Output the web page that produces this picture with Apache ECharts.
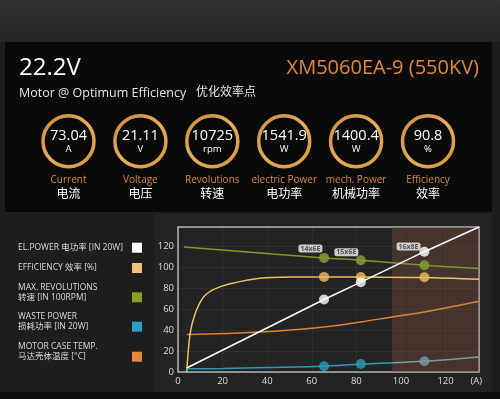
<!DOCTYPE html>
<html><head><meta charset="utf-8">
<script src="https://cdn.jsdelivr.net/npm/echarts@6/dist/echarts.min.js"></script>
<style>html,body{margin:0;padding:0;background:#1e1e1e}#c{width:500px;height:399px}</style>
</head><body><div id="c"></div>
<script>
const voltage = '22.2V';
const motorName = 'XM5060EA-9 (550KV)';
const subtitleEn = 'Motor @ Optimum Efficiency';
const subtitleZh = '优化效率点';
const statValues = ['73.04', '21.11', '10725', '1541.9', '1400.4', '90.8'];
const statUnits = ['A', 'V', 'rpm', 'W', 'W', '%'];
const statNamesEn = ['Current', 'Voltage', 'Revolutions', 'electric Power', 'mech. Power', 'Efficiency'];
const statNamesZh = ['电流', '电压', '转速', '电功率', '机械功率', '效率'];

const legendLines = [
  ['EL.POWER 电功率 [IN 20W]'],
  ['EFFICIENCY 效率 [%]'],
  ['MAX. REVOLUTIONS', '转速 [IN 100RPM]'],
  ['WASTE POWER', '损耗功率 [IN 20W]'],
  ['MOTOR CASE TEMP.', '马达壳体温度 [°C]']
];
const legendColors = ['#ffffff', '#f2c27a', '#8a9e2a', '#2aa0c0', '#e08a3a'];

const xMax = 135, yMax = 138;
const elPower = [[3.9, 3.8], [65.5, 69], [82, 85.5], [110.5, 114.5], [135, 138]];
const efficiency = [[3.9, 0], [5.4, 36], [7.6, 55], [11.3, 71], [15, 77.5], [18.8, 81], [23.3, 84], [36.6, 89.2], [51.5, 90.4], [65.5, 90.5], [82, 90.3], [110.5, 90], [135, 88.2]];
const maxRevs = [[2.7, 119], [65.5, 108.6], [82, 106.4], [110.5, 101.6], [135, 98.4]];
const wastePower = [[3.9, 3], [20, 3.4], [40, 4.2], [65.5, 5.4], [82, 7.6], [110.5, 10.2], [135, 14.3]];
const caseTemp = [[3.9, 35.6], [36.6, 38], [65.5, 42.9], [82, 47.6], [96, 52.4], [110.5, 57.1], [135, 67.3]];

const opCurrent = [65.5, 82, 110.5];
const elPowerAtOp = [69, 85.5, 114.5];
const efficiencyAtOp = [90.5, 90.3, 90.1];
const revsAtOp = [108.6, 106.4, 101.6];
const wasteAtOp = [5.4, 7.6, 10.2];

const propLabels = ['14x6E', '15x6E', '16x8E'];
const propLabelX = [59.4, 75.5, 103.4];
const propLabelY = [117.5, 114, 119.4];
const overloadFrom = 96;

const FONT = "'Open Sans', 'Noto Sans CJK SC', sans-serif";
const chart = echarts.init(document.getElementById('c'), null, {renderer: 'canvas'});

const graphics = [];
graphics.push({type: 'rect', z: -100, shape: {x: 0, y: 0, width: 500, height: 42},
  style: {fill: new echarts.graphic.LinearGradient(0, 0, 0, 1, [{offset: 0, color: '#303131'}, {offset: 1, color: '#242525'}])}});
graphics.push({type: 'rect', z: -100, shape: {x: 5, y: 42, width: 487, height: 170}, style: {fill: '#0a0a0a'}});
graphics.push({type: 'rect', z: -100, shape: {x: 155, y: 214, width: 337, height: 178}, style: {fill: '#232323'}});
graphics.push({type: 'rect', z: -100, shape: {x: 0, y: 392, width: 500, height: 7}, style: {fill: '#0c0c0c'}});

graphics.push({type: 'text', z: 10, x: 19, y: 68, style: {text: voltage, font: '24px ' + FONT, fill: '#ffffff', verticalAlign: 'middle'}});
graphics.push({type: 'text', z: 10, x: 479, y: 68, style: {text: motorName, font: '20px ' + FONT, fill: '#e0893c', align: 'right', verticalAlign: 'middle'}});
graphics.push({type: 'text', z: 10, x: 19, y: 93, style: {text: subtitleEn, font: '12.5px ' + FONT, fill: '#e6e6e6', verticalAlign: 'middle'}});
graphics.push({type: 'text', z: 10, x: 196, y: 93, style: {text: subtitleZh, font: '12px ' + FONT, fill: '#e6e6e6', verticalAlign: 'middle'}});

const ringGrad = new echarts.graphic.LinearGradient(0, 0, 1, 1, [
  {offset: 0, color: '#c98a3e'}, {offset: 0.5, color: '#e6ad5c'}, {offset: 1, color: '#d9963f'}]);
statValues.forEach((v, i) => {
  const cx = 68.5 + i * 71.9, cy = 141.3;
  graphics.push({type: 'circle', z: 10, shape: {cx, cy, r: 25.5}, style: {fill: 'none', stroke: ringGrad, lineWidth: 3.5}});
  graphics.push({type: 'text', z: 10, x: cx, y: 136, style: {text: v, font: '14.5px ' + FONT, fill: '#ffffff', align: 'center', verticalAlign: 'middle'}});
  graphics.push({type: 'text', z: 10, x: cx, y: 149.5, style: {text: statUnits[i], font: '9.5px ' + FONT, fill: '#ffffff', align: 'center', verticalAlign: 'middle'}});
  graphics.push({type: 'text', z: 10, x: cx, y: 180.5, style: {text: statNamesEn[i], font: '10px ' + FONT, fill: '#d8873c', align: 'center', verticalAlign: 'middle'}});
  graphics.push({type: 'text', z: 10, x: cx, y: 195, style: {text: statNamesZh[i], font: '12px ' + FONT, fill: '#ffffff', align: 'center', verticalAlign: 'middle'}});
});

const legendRowY = [247.7, 268, 287.3, 316.7, 346.7];
legendLines.forEach((lines, i) => {
  lines.forEach((t, j) => {
    graphics.push({type: 'text', z: 10, x: 18, y: legendRowY[i] + j * 10, style: {text: t, font: '8.5px ' + FONT, fill: '#dcdcdc', verticalAlign: 'middle'}});
  });
  const sy = legendRowY[i] + (lines.length - 1) * 10;
  graphics.push({type: 'rect', z: 10, shape: {x: 132, y: sy - 5, width: 10, height: 10}, style: {fill: legendColors[i]}});
});

const pts = (xs, ys) => xs.map((x, i) => [x, ys[i]]);

const option = {
  backgroundColor: '#1d1d1d',
  animation: false,
  textStyle: {fontFamily: FONT},
  graphic: graphics,
  grid: {left: 178, right: 21, top: 227, bottom: 27, show: true, backgroundColor: 'transparent', borderColor: '#b4b4b4', borderWidth: 1.5},
  xAxis: {
    type: 'value', min: 0, max: xMax, interval: 20,
    name: '(A)', nameLocation: 'end', nameGap: 0,
    nameTextStyle: {color: '#dddddd', fontSize: 9.5, align: 'right', verticalAlign: 'top', padding: [5, -3, 0, 0]},
    axisLine: {show: false}, axisTick: {show: false},
    axisLabel: {color: '#dddddd', fontSize: 9.5, margin: 5, formatter: v => v > 125 ? '' : v},
    splitLine: {lineStyle: {color: 'rgba(255,255,255,0.05)'}}
  },
  yAxis: {
    type: 'value', min: 0, max: yMax, interval: 20,
    axisLine: {show: false}, axisTick: {show: false},
    axisLabel: {color: '#dddddd', fontSize: 9.5, margin: 4, formatter: v => v > 130 ? '' : v},
    splitLine: {lineStyle: {color: 'rgba(255,255,255,0.05)'}}
  },
  series: [
    {type: 'line', data: caseTemp, smooth: 0.4, showSymbol: false, lineStyle: {color: '#d8853a', width: 1.5},
     markArea: {silent: true, itemStyle: {color: 'rgba(125,80,60,0.38)'}, data: [[{xAxis: overloadFrom, yAxis: 0}, {xAxis: xMax, yAxis: yMax}]]}, z: 1},
    {type: 'line', data: efficiency, smooth: 0.3, showSymbol: false, lineStyle: {color: '#ecc066', width: 1.5}},
    {type: 'line', data: maxRevs, smooth: 0.3, showSymbol: false, lineStyle: {color: '#86962e', width: 1.5}},
    {type: 'line', data: wastePower, smooth: 0.3, showSymbol: false,
     lineStyle: {width: 1.5, color: new echarts.graphic.LinearGradient(0, 0, 1, 0, [
       {offset: 0, color: '#2a9bb8'}, {offset: (overloadFrom - 3.9) / (135 - 3.9), color: '#2a9bb8'},
       {offset: (overloadFrom - 3.9) / (135 - 3.9), color: '#7b9ea6'}, {offset: 1, color: '#7b9ea6'}])}},
    {type: 'line', data: elPower, showSymbol: false, lineStyle: {color: '#ffffff', width: 1.5}},
    {type: 'scatter', data: pts(opCurrent, efficiencyAtOp), symbolSize: 10, itemStyle: {color: '#f0bb6a'}},
    {type: 'scatter', data: pts(opCurrent, revsAtOp), symbolSize: 10, itemStyle: {color: '#8da03a'}},
    {type: 'scatter', data: pts(opCurrent, elPowerAtOp), symbolSize: 10, itemStyle: {color: '#ffffff'}},
    {type: 'scatter', data: pts(opCurrent, wasteAtOp), symbolSize: 10,
     itemStyle: {color: p => p.value[0] >= overloadFrom ? '#7b9ea6' : '#2a9bb8'}},
    {type: 'scatter', symbolSize: 1, z: 20, itemStyle: {color: 'rgba(0,0,0,0)'},
     data: propLabels.map((n, i) => ({name: n, value: [propLabelX[i], propLabelY[i]]})),
     label: {show: true, position: 'inside', formatter: p => p.name, color: '#333333', fontSize: 7, fontWeight: 'bold',
       backgroundColor: '#f4f4f4', borderRadius: 2, padding: [1, 2, 0, 2]}}
  ]
};
chart.setOption(option);
</script></body></html>
